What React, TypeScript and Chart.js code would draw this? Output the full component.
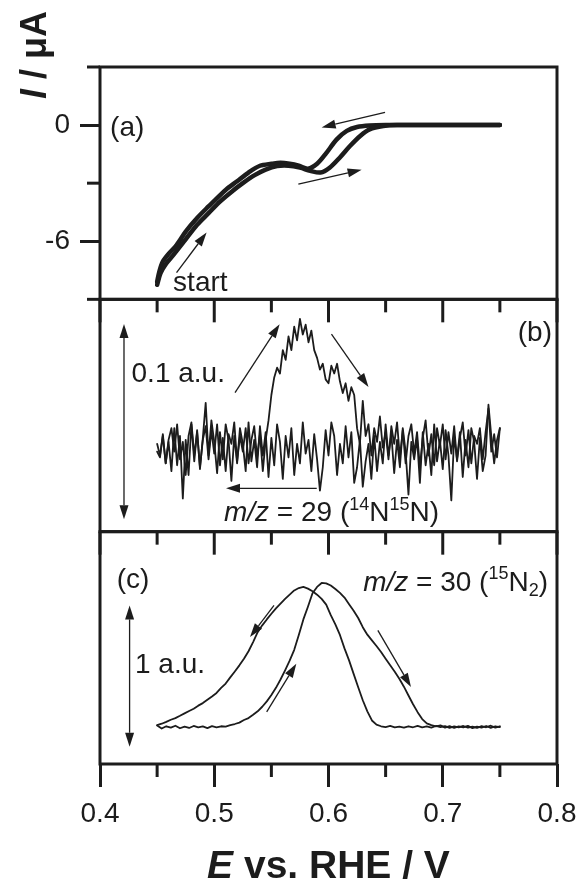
import React, { useEffect, useRef } from 'react';
import { Chart, registerables } from 'chart.js';

Chart.register(...registerables);

const INK = '#1c1c1c';
const FONT = '"Liberation Sans", Arial, Helvetica, sans-serif';

// ---------- Panel (a): cyclic voltammogram, I / µA vs E / V ----------
const cvForwardE = [0.450, 0.453, 0.458, 0.465, 0.475, 0.485, 0.495, 0.505, 0.515, 0.525, 0.535, 0.545, 0.555, 0.565, 0.575, 0.584, 0.593, 0.601, 0.610, 0.619, 0.628, 0.636, 0.648, 0.660, 0.700, 0.750];
const cvForwardI = [-8.25, -7.65, -7.15, -6.65, -5.9, -5.15, -4.55, -3.95, -3.45, -3.0, -2.6, -2.3, -2.12, -2.1, -2.2, -2.36, -2.45, -2.2, -1.67, -1.07, -0.55, -0.22, -0.05, 0.0, 0.0, 0.0];
const cvReverseE = [0.750, 0.700, 0.650, 0.636, 0.625, 0.616, 0.607, 0.598, 0.590, 0.582, 0.574, 0.566, 0.558, 0.550, 0.540, 0.530, 0.520, 0.510, 0.502, 0.495, 0.485, 0.475, 0.467, 0.460, 0.455, 0.452, 0.450];
const cvReverseI = [0.0, 0.0, 0.0, -0.02, -0.1, -0.3, -0.75, -1.45, -2.0, -2.25, -2.1, -2.0, -1.95, -2.0, -2.1, -2.45, -2.9, -3.35, -3.8, -4.2, -4.8, -5.5, -6.2, -6.65, -7.05, -7.55, -8.1];

// ---------- Panel (b): m/z = 29 signal (a.u.) ----------
const ms29StartE = 0.45;
const ms29EndE = 0.75;
const ms29StepE = 0.0025;
// positive-going sweep 0.45 -> 0.75
const ms29Forward = [
  0.002, -0.004, 0.006, -0.008, 0.004, 0.010, -0.002, 0.012, -0.006, 0.003,
  -0.014, 0.006, 0.013, -0.004, 0.008, -0.010, 0.004, 0.011, -0.006, 0.009,
  -0.003, 0.012, -0.009, 0.005, -0.012, 0.007, 0.002, 0.013, -0.007, 0.006,
  -0.002, 0.010, -0.008, 0.004, 0.011, -0.005, 0.007, -0.012, 0.004, 0.014,
  0.027, 0.036, 0.041, 0.038, 0.050, 0.045, 0.057, 0.050, 0.062, 0.055,
  0.066, 0.058, 0.063, 0.054, 0.060, 0.050, 0.046, 0.040, 0.043, 0.035,
  0.033, 0.042, 0.038, 0.043, 0.034, 0.028, 0.033, 0.024, 0.031, 0.027,
  0.010, 0.002, 0.024, 0.006, 0.012, -0.004, 0.010, 0.003, 0.016, 0.000,
  0.008, -0.006, 0.011, 0.002, 0.013, -0.005, 0.009, -0.008, 0.006, 0.012,
  -0.003, 0.008, -0.010, 0.005, 0.014, -0.004, 0.007, -0.009, 0.010, 0.001,
  0.012, -0.006, 0.008, -0.003, 0.011, -0.007, 0.005, 0.013, -0.004, 0.009,
  -0.008, 0.006, 0.002, 0.010, -0.006, 0.008, 0.020, -0.002, 0.007, -0.005,
  0.010,
];
// negative-going sweep 0.75 -> 0.45
const ms29Reverse = [
  0.010, 0.004, -0.008, 0.006, 0.022, -0.004, -0.012, 0.005, -0.016, 0.003,
  0.010, -0.010, 0.004, -0.015, 0.008, -0.006, 0.006, -0.027, -0.004, 0.009,
  -0.011, 0.004, -0.007, 0.012, -0.014, 0.002, -0.009, 0.008, -0.018, 0.005,
  -0.006, 0.003, -0.024, -0.002, 0.010, -0.010, 0.004, -0.013, 0.007, -0.004,
  0.012, -0.008, 0.003, -0.012, 0.006, -0.016, 0.002, -0.007, -0.020, 0.004,
  -0.010, -0.018, 0.008, -0.005, 0.011, -0.008, 0.002, -0.014, 0.006, 0.013,
  -0.004, 0.009, -0.010, -0.022, -0.006, 0.007, -0.012, 0.004, -0.003, 0.013,
  -0.008, 0.002, -0.014, 0.010, -0.005, 0.006, -0.016, 0.003, 0.012, -0.009,
  0.005, -0.015, 0.008, -0.004, 0.011, -0.010, 0.004, -0.007, 0.013, -0.012,
  0.002, 0.010, -0.008, 0.006, -0.017, 0.004, 0.012, -0.006, 0.008, -0.013,
  0.003, 0.014, -0.004, 0.023, 0.005, -0.011, 0.009, -0.007, 0.012, -0.014,
  0.004, -0.026, 0.006, -0.009, 0.010, -0.012, 0.003, -0.008, 0.007, -0.005,
  -0.002,
];

// ---------- Panel (c): m/z = 30 signal (a.u.) ----------
const ms30StepE = 0.004;
// positive-going sweep 0.45 -> 0.75
const ms30Forward = [
  0.010, -0.012, 0.004, -0.006, 0.008, -0.010, 0.002, -0.008, 0.006, -0.004,
  0.003, -0.009, 0.005, -0.003, 0.004, 0.002, 0.012, 0.020, 0.030, 0.048,
  0.062, 0.085, 0.110, 0.142, 0.180, 0.225, 0.276, 0.335, 0.400, 0.468,
  0.545, 0.650, 0.760, 0.850, 0.945, 0.990, 1.018, 1.015, 1.000, 0.975,
  0.948, 0.915, 0.868, 0.822, 0.770, 0.705, 0.652, 0.612, 0.572, 0.530,
  0.482, 0.436, 0.390, 0.340, 0.284, 0.222, 0.160, 0.104, 0.055, 0.025,
  0.012, 0.004, 0.010, -0.006, 0.005, -0.008, 0.003, -0.004, 0.007, -0.009,
  0.002, -0.005, 0.006, -0.007, 0.004, -0.002,
];
// negative-going sweep 0.75 -> 0.45
const ms30Reverse = [
  0.004, -0.006, 0.008, -0.003, 0.005, -0.008, 0.002, -0.005, 0.006, -0.004,
  0.003, -0.007, 0.005, -0.002, 0.006, -0.006, 0.003, -0.004, 0.007, -0.003,
  0.004, -0.006, 0.002, -0.004, 0.006, -0.002, 0.004, 0.015, 0.045, 0.110,
  0.188, 0.280, 0.375, 0.470, 0.555, 0.650, 0.725, 0.790, 0.865, 0.905,
  0.935, 0.960, 0.978, 0.990, 0.982, 0.965, 0.935, 0.905, 0.872, 0.838,
  0.800, 0.760, 0.718, 0.670, 0.600, 0.535, 0.482, 0.435, 0.392, 0.350,
  0.306, 0.275, 0.240, 0.215, 0.192, 0.168, 0.150, 0.128, 0.112, 0.095,
  0.078, 0.062, 0.050, 0.035, 0.022, 0.012,
];

// ---------- Axes ----------
const xTickValues = [0.4, 0.5, 0.6, 0.7, 0.8];
const xMinorTickValues = [0.45, 0.55, 0.65, 0.75];
const cvTickValues = [0, -6];
const cvMinorTickValues = [3, -3, -9];

// ---------- Annotations (data coordinates of their panel) ----------
const ARROWS = [
  { axis: 'ya', from: [0.467, -7.62], to: [0.4933, -5.55] },
  { axis: 'ya', from: [0.6495, 0.66], to: [0.594, -0.12] },
  { axis: 'ya', from: [0.5736, -3.05], to: [0.629, -2.31] },
  { axis: 'yb', from: [0.5182, 0.0282], to: [0.5572, 0.0633] },
  { axis: 'yb', from: [0.6026, 0.0582], to: [0.635, 0.0311] },
  { axis: 'yb', from: [0.5897, -0.0208], to: [0.5103, -0.0208] },
  { axis: 'yc', from: [0.5523, 0.859], to: [0.5313, 0.635] },
  { axis: 'yc', from: [0.5459, 0.106], to: [0.5718, 0.447] },
  { axis: 'yc', from: [0.6432, 0.682], to: [0.6722, 0.282] },
];
const SCALE_BARS = [
  { axis: 'yb', x: 0.421, from: -0.0366, to: 0.0634 },
  { axis: 'yc', x: 0.4259, from: -0.141, to: 0.859 },
];
type Seg = { t: string; italic?: boolean; sup?: boolean; sub?: boolean };
const LABELS: { axis: string; at: number[]; align: 'left' | 'right'; segs: Seg[] }[] = [
  { axis: 'ya', at: [0.4088, -0.05], align: 'left', segs: [{ t: '(a)' }] },
  { axis: 'ya', at: [0.464, -8.03], align: 'left', segs: [{ t: 'start' }] },
  { axis: 'yb', at: [0.7956, 0.0598], align: 'right', segs: [{ t: '(b)' }] },
  { axis: 'yb', at: [0.4276, 0.0388], align: 'left', segs: [{ t: '0.1 a.u.' }] },
  {
    axis: 'yb', at: [0.5085, -0.0325], align: 'left',
    segs: [{ t: 'm/z', italic: true }, { t: ' = 29 (' }, { t: '14', sup: true }, { t: 'N' }, { t: '15', sup: true }, { t: 'N)' }],
  },
  { axis: 'yc', at: [0.4146, 1.056], align: 'left', segs: [{ t: '(c)' }] },
  {
    axis: 'yc', at: [0.7921, 1.035], align: 'right',
    segs: [{ t: 'm/z', italic: true }, { t: ' = 30 (' }, { t: '15', sup: true }, { t: 'N' }, { t: '2', sub: true }, { t: ')' }],
  },
  { axis: 'yc', at: [0.4306, 0.449], align: 'left', segs: [{ t: '1 a.u.' }] },
];

const pairs = (xs: number[], ys: number[]) => xs.map((x, i) => ({ x, y: ys[i] }));
const sweep = (start: number, step: number, dir: number, ys: number[]) =>
  ys.map((y, i) => ({ x: Math.round((start + dir * step * i) * 10000) / 10000, y }));

const TXT = 28;

function drawRich(ctx: CanvasRenderingContext2D, segs: Seg[], x: number, y: number, align: 'left' | 'right', size: number, bold = false) {
  const fontOf = (s: Seg) => {
    const sz = s.sup || s.sub ? Math.round(size * 0.63) : size;
    return `${s.italic ? 'italic ' : ''}${bold ? 'bold ' : ''}${sz}px ${FONT}`;
  };
  let total = 0;
  segs.forEach((s) => { ctx.font = fontOf(s); total += ctx.measureText(s.t).width; });
  let cx = align === 'left' ? x : x - total;
  ctx.textAlign = 'left';
  ctx.textBaseline = 'alphabetic';
  const base = y + size * 0.36;
  segs.forEach((s) => {
    ctx.font = fontOf(s);
    const dy = s.sup ? -size * 0.4 : s.sub ? size * 0.2 : 0;
    ctx.fillText(s.t, cx, base + dy);
    cx += ctx.measureText(s.t).width;
  });
}

function arrowHead(ctx: CanvasRenderingContext2D, x1: number, y1: number, x2: number, y2: number, head = 14, half = 4.5) {
  const a = Math.atan2(y2 - y1, x2 - x1);
  const bx = x2 - head * Math.cos(a);
  const by = y2 - head * Math.sin(a);
  ctx.beginPath();
  ctx.moveTo(x2, y2);
  ctx.lineTo(bx + half * Math.sin(a), by - half * Math.cos(a));
  ctx.lineTo(bx - half * Math.sin(a), by + half * Math.cos(a));
  ctx.closePath();
  ctx.fill();
  return [bx, by];
}

const panelPlugin = {
  id: 'panels',
  afterDraw(chart: any) {
    const { ctx, chartArea } = chart;
    const xs = chart.scales.x;
    const ids = ['ya', 'yb', 'yc'];
    ctx.save();
    ctx.strokeStyle = INK;
    ctx.fillStyle = INK;
    ctx.lineWidth = 3;
    ctx.lineCap = 'butt';
    const vline = (x: number, y1: number, y2: number) => { ctx.beginPath(); ctx.moveTo(x, y1); ctx.lineTo(x, y2); ctx.stroke(); };
    const hline = (x1: number, x2: number, y: number) => { ctx.beginPath(); ctx.moveTo(x1, y); ctx.lineTo(x2, y); ctx.stroke(); };
    ids.forEach((id) => {
      const s = chart.scales[id];
      ctx.strokeRect(chartArea.left, s.top, chartArea.right - chartArea.left, s.bottom - s.top);
      const yb = s.bottom;
      if (id !== 'yc') xTickValues.forEach((v) => vline(xs.getPixelForValue(v), yb, yb + 23));
      xMinorTickValues.forEach((v) => vline(xs.getPixelForValue(v), yb, yb + 13));
    });
    const ya = chart.scales.ya;
    cvMinorTickValues.forEach((v) => hline(chartArea.left - 13, chartArea.left, ya.getPixelForValue(v)));

    // arrows
    ctx.lineWidth = 1.3;
    ARROWS.forEach((a) => {
      const ys = chart.scales[a.axis];
      const x1 = xs.getPixelForValue(a.from[0]);
      const y1 = ys.getPixelForValue(a.from[1]);
      const x2 = xs.getPixelForValue(a.to[0]);
      const y2 = ys.getPixelForValue(a.to[1]);
      const [bx, by] = arrowHead(ctx, x1, y1, x2, y2);
      ctx.beginPath(); ctx.moveTo(x1, y1); ctx.lineTo(bx, by); ctx.stroke();
    });
    SCALE_BARS.forEach((b) => {
      const ys = chart.scales[b.axis];
      const x = xs.getPixelForValue(b.x);
      const y1 = ys.getPixelForValue(b.from);
      const y2 = ys.getPixelForValue(b.to);
      const [, t1] = arrowHead(ctx, x, y2, x, y1);
      const [, t2] = arrowHead(ctx, x, y1, x, y2);
      ctx.beginPath(); ctx.moveTo(x, t1); ctx.lineTo(x, t2); ctx.stroke();
    });

    // labels
    LABELS.forEach((l) => {
      const ys = chart.scales[l.axis];
      drawRich(ctx, l.segs, xs.getPixelForValue(l.at[0]), ys.getPixelForValue(l.at[1]), l.align, TXT);
    });
    ctx.restore();
  },
};

// Axis titles drawn separately (mixed italic / upright)
const titlePlugin = {
  id: 'titles',
  afterDraw(chart: any) {
    const { ctx, chartArea } = chart;
    ctx.save();
    ctx.fillStyle = INK;
    const f = (s: Seg, sz: number) => `${s.italic ? 'italic ' : ''}bold ${sz}px ${FONT}`;
    // x title
    const segsX: Seg[] = [{ t: 'E', italic: true }, { t: ' vs. RHE / V' }];
    const sizeX = 39;
    let w = 0;
    segsX.forEach((s) => { ctx.font = f(s, sizeX); w += ctx.measureText(s.t).width; });
    let cx = (chartArea.left + chartArea.right) / 2 - w / 2;
    ctx.textAlign = 'left';
    ctx.textBaseline = 'alphabetic';
    segsX.forEach((s) => { ctx.font = f(s, sizeX); ctx.fillText(s.t, cx, chart.height - 1); cx += ctx.measureText(s.t).width; });
    // y title
    const segsY: Seg[] = [{ t: 'I', italic: true }, { t: ' / \u03bcA' }];
    const sizeY = 36;
    w = 0;
    segsY.forEach((s) => { ctx.font = f(s, sizeY); w += ctx.measureText(s.t).width; });
    ctx.translate(33, 55);
    ctx.rotate(-Math.PI / 2);
    cx = -w / 2;
    segsY.forEach((s) => { ctx.font = f(s, sizeY); ctx.fillText(s.t, cx, sizeY * 0.36); cx += ctx.measureText(s.t).width; });
    ctx.restore();
  },
};

export default function App() {
  const ref = useRef<HTMLCanvasElement>(null);
  useEffect(() => {
    if (!ref.current) return;
    const line = (data: any[], axis: string, width: number, tension: number) => ({
      data,
      yAxisID: axis,
      borderColor: INK,
      borderWidth: width,
      tension,
      pointRadius: 0,
      fill: false,
      borderCapStyle: 'round',
      borderJoinStyle: 'round',
    });
    const hiddenY = (weight: number, min: number, max: number) => ({
      type: 'linear',
      position: 'left',
      stack: 'panels',
      stackWeight: 1,
      weight,
      min,
      max,
      ticks: { display: false },
      grid: { display: false },
      border: { display: false },
      afterFit: (s: any) => { s.width = 100; s.paddingTop = 0; s.paddingBottom = 0; },
    });
    const chart = new Chart(ref.current, {
      type: 'line',
      data: {
        datasets: [
          line(pairs(cvForwardE, cvForwardI), 'ya', 4.5, 0.3),
          line(pairs(cvReverseE, cvReverseI), 'ya', 4.5, 0.3),
          line(sweep(ms29StartE, ms29StepE, 1, ms29Forward), 'yb', 1.8, 0),
          line(sweep(ms29EndE, ms29StepE, -1, ms29Reverse), 'yb', 1.8, 0),
          line(sweep(ms29StartE, ms30StepE, 1, ms30Forward), 'yc', 1.8, 0),
          line(sweep(ms29EndE, ms30StepE, -1, ms30Reverse), 'yc', 1.8, 0),
        ] as any,
      },
      options: {
        responsive: false,
        animation: false,
        events: [],
        layout: { padding: { top: 67, right: 21, left: 0, bottom: 0 } },
        plugins: { legend: { display: false }, tooltip: { enabled: false }, title: { display: false } },
        scales: {
          x: {
            type: 'linear',
            position: 'bottom',
            min: 0.4,
            max: 0.8,
            afterBuildTicks: (s: any) => { s.ticks = xTickValues.map((v) => ({ value: v })); },
            ticks: {
              callback: (v: any) => Number(v).toFixed(1),
              font: { family: FONT, size: TXT },
              color: INK,
              padding: 10,
              maxRotation: 0,
              autoSkip: false,
            },
            grid: { display: true, drawOnChartArea: false, drawTicks: true, tickLength: 23, lineWidth: 3, color: INK },
            border: { display: false },
            afterFit: (s: any) => { s.height = 115; s.paddingLeft = 0; s.paddingRight = 0; },
          },
          yc: hiddenY(1, -0.263, 1.381),
          yb: hiddenY(2, -0.043, 0.076),
          ya: {
            type: 'linear',
            position: 'left',
            stack: 'panels',
            stackWeight: 1,
            weight: 3,
            min: -9,
            max: 3,
            afterBuildTicks: (s: any) => { s.ticks = cvTickValues.map((v) => ({ value: v })); },
            ticks: {
              callback: (v: any) => String(v),
              font: { family: FONT, size: TXT },
              color: INK,
              padding: 10,
            },
            grid: { display: true, drawOnChartArea: false, drawTicks: true, tickLength: 20, lineWidth: 3, color: INK },
            border: { display: false },
            afterFit: (s: any) => { s.width = 100; s.paddingTop = 0; s.paddingBottom = 0; },
          },
        } as any,
      },
      plugins: [panelPlugin, titlePlugin],
    });
    return () => chart.destroy();
  }, []);
  return (
    <div style={{ position: 'absolute', left: 0, top: 0, width: 578, height: 879, background: '#fff' }}>
      <canvas ref={ref} width={578} height={879} style={{ display: 'block' }} />
    </div>
  );
}
